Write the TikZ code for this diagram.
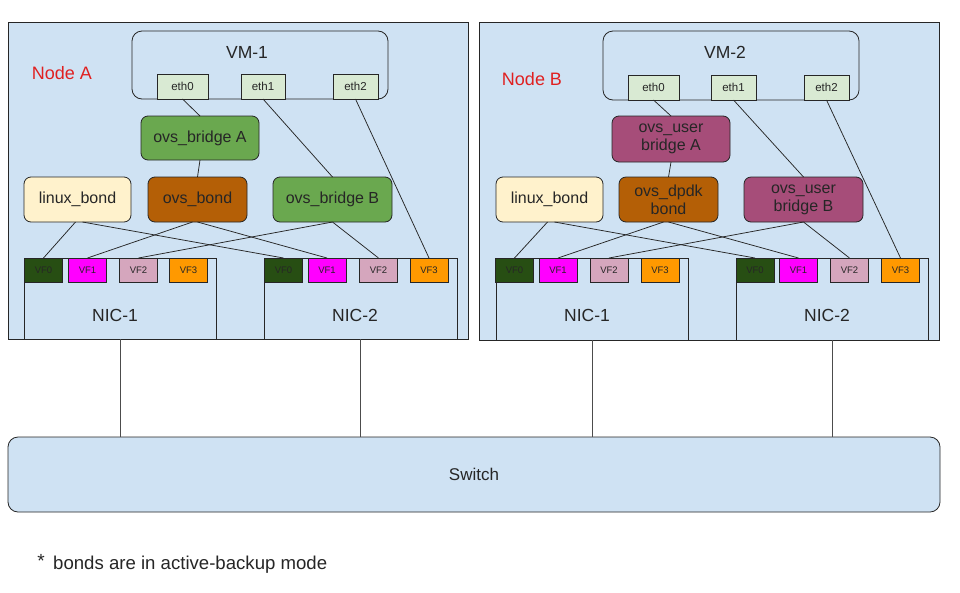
\documentclass[tikz,border=0pt]{standalone}
\usepackage{fontspec}
\setmainfont{Liberation Sans}
\definecolor{panelbg}{HTML}{CFE2F3}
\definecolor{ethbg}{HTML}{D9EAD3}
\definecolor{ovsgreen}{HTML}{6AA84F}
\definecolor{ovsorange}{HTML}{B45F06}
\definecolor{linuxbg}{HTML}{FFF2CC}
\definecolor{ovsuser}{HTML}{A64D79}
\definecolor{vfzero}{HTML}{274E13}
\definecolor{vfone}{HTML}{FF00FF}
\definecolor{vftwo}{HTML}{D5A6BD}
\definecolor{vfthree}{HTML}{FF9900}
\definecolor{nodered}{HTML}{E02020}
\tikzset{
  base/.style={draw=black!85, line width=0.8pt, inner sep=0pt, outer sep=0pt, text=black!85, font=\fontsize{16}{18}\selectfont, align=center},
  panel/.style={base, fill=panelbg},
  vmbox/.style={base, fill=panelbg, rounded corners=10pt},
  ethbox/.style={base, fill=ethbg, font=\fontsize{11.5}{13}\selectfont, minimum height=25pt},
  swbox/.style={base, fill=ovsgreen, rounded corners=7pt},
  bondbox/.style={base, fill=ovsorange, rounded corners=7pt},
  linbox/.style={base, fill=linuxbg, rounded corners=7pt},
  userbox/.style={base, fill=ovsuser, rounded corners=7pt},
  nicbox/.style={base, fill=panelbg, minimum width=192pt},
  vfbox/.style={base, font=\fontsize{9.5}{11}\selectfont, minimum width=38pt, minimum height=24pt},
  lbl/.style={inner sep=0pt, text=black!85},
  wire/.style={draw=black!85, line width=0.75pt},
  uplink/.style={draw=black!70, line width=0.6pt},
}
\begin{document}
\begin{tikzpicture}[x=1pt,y=-1pt]
\useasboundingbox (0,0) rectangle (960,592);
\fill[white] (0,0) rectangle (960,592);

% ---------- Node A ----------
\node[panel, minimum width=460pt, minimum height=317pt] (pa) at (238,180.5) {};
\node[lbl, text=nodered, font=\fontsize{18}{20}\selectfont] (la) at (62,73) {Node A};
\node[vmbox, minimum width=256pt, minimum height=68pt] (vm1) at (260,65) {};
\node[lbl, font=\fontsize{17.5}{20}\selectfont] (vm1l) at (247,52) {VM-1};
\node[ethbox, minimum width=51pt] (a0) at (182.5,86.5) {eth0};
\node[ethbox, minimum width=44pt] (a1) at (263,86.5) {eth1};
\node[ethbox, minimum width=45pt] (a2) at (355.5,86.5) {eth2};
\node[swbox, minimum width=118pt, minimum height=44pt] (abra) at (200,138) {ovs\_bridge A};
\node[linbox, minimum width=107pt, minimum height=45pt] (alin) at (77.5,199.5) {linux\_bond};
\node[bondbox, minimum width=99pt, minimum height=45pt] (abond) at (197.5,199.5) {ovs\_bond};
\node[swbox, minimum width=119pt, minimum height=45pt] (abrb) at (332.5,199.5) {ovs\_bridge B};
\node[nicbox, minimum height=81pt] (an1) at (120,298.5) {};
\node[nicbox, minimum width=193pt, minimum height=81pt] (an2) at (360.5,298.5) {};
\node[lbl, font=\fontsize{17.5}{20}\selectfont] (an1l) at (115,315) {NIC-1};
\node[lbl, font=\fontsize{17.5}{20}\selectfont] (an2l) at (355,315) {NIC-2};
\node[vfbox, fill=vfzero] (a10) at (43.5,270) {VF0};
\node[vfbox, fill=vfone] (a11) at (87.5,270) {VF1};
\node[vfbox, fill=vftwo] (a12) at (138.5,270) {VF2};
\node[vfbox, fill=vfthree] (a13) at (188.5,270) {VF3};
\node[vfbox, fill=vfzero] (a20) at (283.5,270) {VF0};
\node[vfbox, fill=vfone] (a21) at (327,270) {VF1};
\node[vfbox, fill=vftwo] (a22) at (378.5,270) {VF2};
\node[vfbox, fill=vfthree] (a23) at (429,270) {VF3};

% ---------- Node B ----------
\node[panel, minimum width=460pt, minimum height=318pt] (pb) at (709,181) {};
\node[lbl, text=nodered, font=\fontsize{18}{20}\selectfont] (lb) at (532,79.5) {Node B};
\node[vmbox, minimum width=256pt, minimum height=69pt] (vm2) at (731,65.5) {};
\node[lbl, font=\fontsize{17.5}{20}\selectfont] (vm2l) at (725,52) {VM-2};
\node[ethbox, minimum width=51pt] (b0) at (653.5,87.5) {eth0};
\node[ethbox, minimum width=45pt] (b1) at (733.5,87.5) {eth1};
\node[ethbox, minimum width=45pt] (b2) at (826.5,87.5) {eth2};
\node[userbox, minimum width=118pt, minimum height=46pt] (bbra) at (671,139) {ovs\_user\\bridge A};
\node[linbox, minimum width=107pt, minimum height=45pt] (blin) at (549.5,199.5) {linux\_bond};
\node[bondbox, minimum width=99pt, minimum height=45pt] (bbond) at (668.5,199.5) {ovs\_dpdk\\bond};
\node[userbox, minimum width=119pt, minimum height=45pt] (bbrb) at (803.5,199.5) {ovs\_user\\bridge B};
\node[nicbox, minimum height=82pt] (bn1) at (592,299) {};
\node[nicbox, minimum height=82pt] (bn2) at (832,299) {};
\node[lbl, font=\fontsize{17.5}{20}\selectfont] (bn1l) at (587,315) {NIC-1};
\node[lbl, font=\fontsize{17.5}{20}\selectfont] (bn2l) at (827,315) {NIC-2};
\node[vfbox, fill=vfzero] (b10) at (514.5,270) {VF0};
\node[vfbox, fill=vfone] (b11) at (558,270) {VF1};
\node[vfbox, fill=vftwo] (b12) at (609,270) {VF2};
\node[vfbox, fill=vfthree] (b13) at (660,270) {VF3};
\node[vfbox, fill=vfzero] (b20) at (755,270) {VF0};
\node[vfbox, fill=vfone] (b21) at (798.5,270) {VF1};
\node[vfbox, fill=vftwo] (b22) at (849.5,270) {VF2};
\node[vfbox, fill=vfthree] (b23) at (900.5,270) {VF3};

% ---------- Switch ----------
\node[base, fill=panelbg, rounded corners=10pt, minimum width=932pt, minimum height=75pt, font=\fontsize{17}{20}\selectfont] (sw) at (474,474.5) {Switch};

% ---------- wires Node A ----------
\draw[wire] (a0.south) -- (abra.north);
\draw[wire] (a1.south) -- (abrb.north);
\draw[wire] (a2.south) -- (a23.north);
\draw[wire] (abra.south) -- (abond.north);
\draw[wire] ([xshift=-2pt]alin.south) -- (a10.north);
\draw[wire] ([xshift=5pt]alin.south) -- (a20.north);
\draw[wire] ([xshift=-5pt]abond.south) -- (a11.north);
\draw[wire] (abond.south) -- (a21.north);
\draw[wire] (abrb.south) -- (a12.north);
\draw[wire] (abrb.south) -- (a22.north);

% ---------- wires Node B ----------
\draw[wire] (b0.south) -- (bbra.north);
\draw[wire] (b1.south) -- (bbrb.north);
\draw[wire] (b2.south) -- (b23.north);
\draw[wire] (bbra.south) -- (bbond.north);
\draw[wire] ([xshift=-2pt]blin.south) -- (b10.north);
\draw[wire] ([xshift=5pt]blin.south) -- (b20.north);
\draw[wire] ([xshift=-5pt]bbond.south) -- (b11.north);
\draw[wire] (bbond.south) -- (b21.north);
\draw[wire] (bbrb.south) -- (b12.north);
\draw[wire] (bbrb.south) -- (b22.north);

% ---------- uplinks ----------
\draw[uplink] (an1.south) -- (an1.south |- sw.north);
\draw[uplink] (an2.south) -- (an2.south |- sw.north);
\draw[uplink] (bn1.south) -- (bn1.south |- sw.north);
\draw[uplink] (bn2.south) -- (bn2.south |- sw.north);

% ---------- footnote ----------
\node[lbl, font=\fontsize{19}{20}\selectfont] (star) at (41,561) {*};
\node[lbl, anchor=west, font=\fontsize{18.6}{20}\selectfont] (note) at (53,565) {bonds are in active-backup mode};
\end{tikzpicture}
\end{document}
